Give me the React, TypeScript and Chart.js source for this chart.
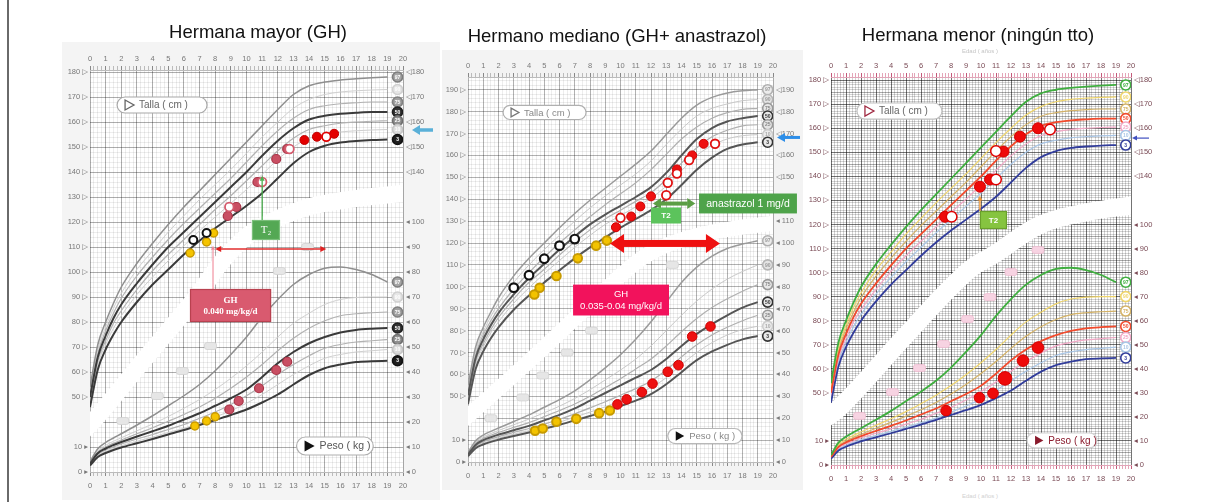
import React, { useEffect, useRef } from 'react';
import { Chart, registerables } from 'chart.js';

Chart.register(...registerables);

const FONT = "'Liberation Sans', 'DejaVu Sans', Arial, sans-serif";
const SERIF = "'Liberation Serif', 'DejaVu Serif', serif";

// Ages (years) at which the reference percentile curves are tabulated
const REF_AGES = [0, 0.5, 1, 1.5, 2, 3, 4, 5, 6, 7, 8, 9, 10, 11, 12, 13, 14, 15, 16, 17, 18, 19];
const PCT_LABELS = ['97', '90', '75', '50', '25', '10', '3'];
const BADGE_AGE = 19.65;

// Girls: height (cm)
const girlsHeightP97 = [54, 71, 80, 87.5, 94, 103.5, 111.5, 119, 126, 132.5, 139, 145.5, 152, 158.5, 165, 171, 174.5, 176, 176.8, 177.3, 177.7, 178];
const girlsHeightP90 = [52.5, 69, 78, 85.5, 91.5, 101, 108.5, 116, 122.5, 129, 135, 141, 147.5, 154, 160, 165.5, 169, 171, 172, 172.5, 172.8, 173];
const girlsHeightP75 = [51.5, 67.5, 76.5, 83.5, 89.5, 98.5, 106, 113, 119.5, 125.5, 131.5, 137.5, 144, 150.5, 156.5, 161.5, 165, 166.5, 167.3, 167.7, 168, 168];
const girlsHeightP50 = [50, 66, 74.5, 81.5, 87, 95.5, 103, 110, 116, 122, 128, 134, 140, 146.5, 152.5, 157.5, 161, 162.5, 163.3, 163.7, 164, 164];
const girlsHeightP25 = [48.5, 64.5, 72.5, 79.5, 84.5, 93, 100.5, 107, 113, 119, 125, 130.5, 136.5, 142.5, 148.5, 153.5, 157, 158.5, 159.5, 160, 160.3, 160.5];
const girlsHeightP10 = [47.5, 63, 71, 77.5, 82.5, 91, 98, 104.5, 110.5, 116.5, 122, 127.5, 133, 139, 145, 150, 153.5, 155, 156, 156.5, 156.8, 157];
const girlsHeightP3 = [46, 61, 69, 75, 80, 88, 95, 101, 107, 112.5, 117.5, 122, 126.5, 131.5, 137.5, 143.5, 148, 150.5, 151.8, 152.4, 152.8, 153];

// Girls: weight (kg)
const girlsWeightP97 = [4.1, 9.3, 11.8, 13.6, 15.3, 18.8, 22.5, 26.5, 30.5, 35, 40.5, 47, 54, 62, 69, 75, 79, 81.5, 82, 81, 79, 76];
const girlsWeightP90 = [3.8, 8.5, 10.7, 12.3, 13.7, 16.5, 19.2, 22.2, 25.5, 29, 33, 37.5, 42.5, 48, 54, 59.5, 63.5, 67, 69, 69.8, 70, 70];
const girlsWeightP75 = [3.6, 8, 10, 11.5, 12.8, 15.3, 17.7, 20.3, 23, 26, 29.5, 33.5, 38, 43, 48.5, 53.5, 57.5, 60.5, 62.5, 63.3, 63.7, 64];
const girlsWeightP50 = [3.3, 7.5, 9.4, 10.8, 12, 14.2, 16.3, 18.5, 21, 23.5, 26.5, 29.5, 33, 38, 43.5, 48, 51.5, 54, 55.8, 56.8, 57.3, 57.6];
const girlsWeightP25 = [3.1, 7, 8.8, 10, 11.2, 13.2, 15, 17, 19, 21.5, 24, 27, 30.5, 34.5, 39, 43, 46.5, 49.5, 51, 52, 52.5, 53];
const girlsWeightP10 = [2.9, 6.5, 8.2, 9.4, 10.5, 12.3, 14, 15.8, 17.5, 19.5, 22, 24.5, 27.5, 31, 35, 39, 42.5, 45.5, 47, 48, 48.5, 49];
const girlsWeightP3 = [2.6, 6, 7.6, 8.8, 9.8, 11.5, 13.2, 15, 16.8, 18.8, 20.8, 22.8, 25, 27.8, 31, 35, 38.8, 41.5, 43, 44, 44.3, 44.5];

// Boys: height (cm)
const boysHeightP97 = [55, 72.5, 81.5, 88.5, 95, 105, 113, 120, 127, 133.5, 139.5, 145, 150.5, 156, 162, 169.5, 177, 183, 186.5, 188.5, 189.5, 190];
const boysHeightP90 = [53.5, 70.5, 79.5, 86.5, 92.5, 102, 110, 117, 123.5, 130, 136, 141.5, 146.5, 151.5, 157.5, 165, 172, 178, 181.5, 183.5, 185, 185.5];
const boysHeightP75 = [52, 69, 78, 84.5, 90, 99, 106.5, 113.5, 120, 126, 132, 137.5, 142.5, 147.5, 153.5, 160.5, 167.5, 173, 177, 179.5, 181, 181.5];
const boysHeightP50 = [50.5, 67.5, 76, 82.5, 88, 96.5, 104, 110.5, 117, 123, 128.5, 133, 137, 141, 145.5, 152, 160, 167.5, 172.5, 175.5, 177, 178];
const boysHeightP25 = [49, 66, 74, 80.5, 86, 94.5, 102, 108, 114.5, 120.5, 126, 131, 135, 139, 143, 149, 156.5, 163.5, 168.5, 171.5, 173.5, 174];
const boysHeightP10 = [48, 64.5, 72.5, 79, 84, 92.5, 99.5, 106, 112, 118, 123.5, 128.5, 132.5, 136.5, 140.5, 146, 153, 160, 164.5, 167.5, 169, 169.5];
const boysHeightP3 = [46.5, 62.5, 70.5, 76.5, 81.5, 89.5, 96, 102, 107.5, 113, 118, 122.5, 127, 131, 135, 140, 146.5, 153.5, 159, 163, 165, 166];

// Boys: weight (kg)
const boysWeightP97 = [4.3, 9.7, 12.3, 14, 15.5, 18.5, 21.5, 25, 28.5, 32.5, 37.5, 43, 49, 56, 64, 73, 82, 89, 94, 97.5, 99.5, 101];
const boysWeightP90 = [4, 9.1, 11.5, 13, 14.4, 17, 19.6, 22.5, 25.5, 29, 33, 37.5, 42, 47, 53, 60, 67, 73.5, 79, 83.5, 87, 90];
const boysWeightP75 = [3.7, 8.5, 10.8, 12.2, 13.5, 15.8, 18, 20.7, 23.5, 26.5, 30, 34, 38, 42.5, 47, 53, 59.5, 65.5, 70.5, 74.5, 78, 81];
const boysWeightP50 = [3.4, 7.8, 10, 11.3, 12.5, 14.5, 16.5, 19, 21.5, 24.5, 28, 31.5, 35, 38.5, 42, 47, 53, 58.5, 63, 67, 70.5, 73];
const boysWeightP25 = [3.1, 7.2, 9.2, 10.5, 11.6, 13.5, 15.3, 17.3, 19.5, 22, 24.7, 27.5, 30.5, 33.5, 37, 42, 48, 53.5, 58, 61.5, 64.5, 67];
const boysWeightP10 = [2.9, 6.8, 8.6, 9.8, 10.9, 12.7, 14.3, 16.2, 18.2, 20.5, 22.8, 25.2, 28, 30.8, 34, 38.5, 44.5, 50, 54.5, 58, 60.5, 62];
const boysWeightP3 = [2.6, 6.3, 8, 9.2, 10.2, 11.9, 13.5, 15.2, 17, 19, 21, 23, 25.5, 28, 31, 35.5, 41, 46.5, 50.5, 53.5, 56, 57.5];

const GIRLS_HEIGHT = [girlsHeightP97, girlsHeightP90, girlsHeightP75, girlsHeightP50, girlsHeightP25, girlsHeightP10, girlsHeightP3];
const GIRLS_WEIGHT = [girlsWeightP97, girlsWeightP90, girlsWeightP75, girlsWeightP50, girlsWeightP25, girlsWeightP10, girlsWeightP3];
const BOYS_HEIGHT = [boysHeightP97, boysHeightP90, boysHeightP75, boysHeightP50, boysHeightP25, boysHeightP10, boysHeightP3];
const BOYS_WEIGHT = [boysWeightP97, boysWeightP90, boysWeightP75, boysWeightP50, boysWeightP25, boysWeightP10, boysWeightP3];

// Older sister (GH): [age, cm] and [age, kg]
const olderHeightBefore = [[6.4, 107.6], [7.45, 112], [7.9, 115.6]];
const olderBoneAgeHeight = [[6.6, 112.8], [7.45, 115.6]];
const olderHeightGh = [[8.8, 122.4], [9.35, 126], [10.7, 136], [11.9, 145.2], [12.6, 149.2]];
const olderHeightGhOpen = [[8.9, 126], [11.0, 136], [12.75, 149.2]];
const olderHeightLate = [[13.7, 152.8], [14.5, 154.1], [15.6, 155.3]];
const olderHeightLateOpen = [[15.1, 154.1]];
const olderWeightBefore = [[6.7, 18.4], [7.45, 20.4], [8.0, 22.1]];
const olderWeightGh = [[8.9, 25], [9.5, 28.4], [10.8, 33.5], [11.9, 40.8], [12.6, 44.1]];

// Middle brother (GH + anastrozole)
const middleBoneAgeHeight = [[3.0, 99.6], [4.0, 105.3], [5.0, 112.8], [6.0, 118.8], [7.0, 121.8]];
const middleHeightBefore = [[4.35, 96.5], [4.7, 99.6], [5.8, 104.9], [7.2, 113], [8.4, 118.8], [9.1, 121.1]];
const middleHeightGh = [[9.7, 127.2], [10.7, 132.1], [11.3, 136.7], [12.0, 141.3], [13.7, 153.6], [14.7, 160], [15.45, 165.3]];
const middleHeightGhOpen = [[10.0, 131.5], [13.0, 141.8], [13.1, 147.5], [13.7, 151.7], [14.5, 157.9], [16.2, 165.3]];
const middleWeightBefore = [[4.4, 14.3], [4.9, 15.3], [5.8, 18.4], [7.1, 19.7], [8.6, 22.3], [9.3, 23.5]];
const middleWeightGh = [[9.8, 26.3], [10.4, 28.6], [11.4, 31.9], [12.1, 35.8], [13.1, 41.2], [13.8, 44.2], [14.7, 57.3], [15.9, 61.9]];

// Younger sister (untreated)
const youngerHeight = [[7.6, 123.2], [9.93, 135.7], [10.6, 138.7], [11.5, 150.3], [12.6, 156.5], [13.8, 160]];
const youngerHeightOpen = [[8.04, 123.2], [11.0, 138.7], [11.0, 150.5], [14.6, 159.5]];
const youngerWeight = [[7.67, 22.6], [9.9, 28], [10.8, 29.8], [11.6, 36], [12.8, 43.4], [13.8, 48.8]];

// White separator band between height and weight sections: [age, kg-axis value]
const olderBand = [[-1, 13], [0.3, 21], [3.2, 43], [6.4, 67], [9.6, 92], [12.8, 103.5], [16, 108.5], [20.5, 111.8]];
const middleBand = [[-1, 15], [0, 21], [4, 46], [8, 72], [11, 91], [13, 99], [16, 105], [20.5, 109.5]];
const youngerBand = [[-1, 17], [0.6, 24], [5, 54], [9, 80], [11, 88], [14, 100], [17, 105], [20.5, 108.3]];

// Age tags along the band: [age, kg-axis value]
const olderTags = [[2.1, 20.4], [4.3, 30.4], [5.9, 40.4], [7.7, 50.4], [12.1, 80.4], [13.9, 90]];
const middleTags = [[1.5, 20], [3.6, 29.5], [4.9, 39.5], [6.5, 50], [8.1, 60], [13.4, 90]];
const youngerTags = [[1.9, 20.4], [4.1, 30.3], [5.9, 40.3], [7.5, 50.3], [9.1, 60.7], [10.6, 69.8], [12, 80.2], [13.8, 89.4]];

type Box = { x1: number; y1: number; x2: number; y2: number; fill: string; stroke?: string; lines: string[]; font: string; color: string; gap?: number };
type Arrow = { x1: number; y1: number; x2: number; y2: number; color: string; width: number; head: number; headW: number; both?: boolean };
type Legend = { x1: number; y1: number; x2: number; y2: number; text: string; filled: boolean; iconColor: string; textColor: string; border: string; size: number };
type Side = { y: number; from: number; to: number; color: string; width: number; head: number; headW: number };
type Dot = { data: number[][]; axis: 'yH' | 'yW'; fill: string; stroke: string; radius: number | number[]; border: number };

type PanelSpec = {
  left: number; top: number; width: number; height: number;
  axisL: number; axisR: number; axisT: number; axisB: number;
  wMax: number; xStep: number; yStep: number;
  canvasBg: string; plotBg: string;
  gridMajor: string; gridMid: string; gridMinor: string;
  tickColor: string; rulerColor: string; markColor: string;
  heights: number[][]; weights: number[][];
  curveColors: string[]; curveWidths: number[];
  badgeFill: string[]; badgeBorder: string[]; badgeText: string[];
  band: number[][]; bandWidth: number;
  dots: Dot[];
  maxWeightLabel: number; minHeightLabel: number;
  tags: number[][]; tagFill: string; tagBorder: string;
  legends: Legend[]; boxes: Box[]; arrows: Arrow[]; side: Side;
};

const isWhole = (v: number) => Math.abs(v - Math.round(v)) < 1e-6;

function rrect(ctx: CanvasRenderingContext2D, x: number, y: number, w: number, h: number, r: number) {
  ctx.beginPath();
  ctx.moveTo(x + r, y);
  ctx.arcTo(x + w, y, x + w, y + h, r);
  ctx.arcTo(x + w, y + h, x, y + h, r);
  ctx.arcTo(x, y + h, x, y, r);
  ctx.arcTo(x, y, x + w, y, r);
  ctx.closePath();
}

function drawArrow(ctx: CanvasRenderingContext2D, a: { x1: number; y1: number; x2: number; y2: number; color: string; width: number; head: number; headW: number; both?: boolean }) {
  const ang = Math.atan2(a.y2 - a.y1, a.x2 - a.x1);
  const len = Math.hypot(a.x2 - a.x1, a.y2 - a.y1);
  ctx.save();
  ctx.translate(a.x1, a.y1);
  ctx.rotate(ang);
  ctx.fillStyle = a.color;
  const s0 = a.both ? a.head - 0.5 : 0;
  const s1 = len - a.head + 0.5;
  ctx.fillRect(s0, -a.width / 2, s1 - s0, a.width);
  ctx.beginPath();
  ctx.moveTo(len, 0);
  ctx.lineTo(len - a.head, -a.headW / 2);
  ctx.lineTo(len - a.head, a.headW / 2);
  ctx.closePath();
  ctx.fill();
  if (a.both) {
    ctx.beginPath();
    ctx.moveTo(0, 0);
    ctx.lineTo(a.head, -a.headW / 2);
    ctx.lineTo(a.head, a.headW / 2);
    ctx.closePath();
    ctx.fill();
  }
  ctx.restore();
}

function decorPlugin(spec: PanelSpec) {
  return {
    id: 'decor',
    beforeDraw(chart: any) {
      const { ctx, chartArea: a } = chart;
      ctx.save();
      ctx.fillStyle = spec.canvasBg;
      ctx.fillRect(0, 0, chart.width, chart.height);
      ctx.fillStyle = spec.plotBg;
      ctx.fillRect(a.left, a.top, a.right - a.left, a.bottom - a.top);
      ctx.restore();
    },
    beforeDatasetsDraw(chart: any) {
      const ctx: CanvasRenderingContext2D = chart.ctx;
      const px = (v: number) => chart.scales.x.getPixelForValue(v);
      const py = (v: number) => chart.scales.yW.getPixelForValue(v);
      ctx.save();
      spec.tags.forEach(([ax, ay]) => {
        rrect(ctx, px(ax) - 6, py(ay) - 3.5, 12, 7, 2.5);
        ctx.fillStyle = spec.tagFill;
        ctx.fill();
        ctx.strokeStyle = spec.tagBorder;
        ctx.lineWidth = 0.8;
        ctx.stroke();
      });
      ctx.restore();
    },
    afterDatasetsDraw(chart: any) {
      const ctx: CanvasRenderingContext2D = chart.ctx;
      const area = chart.chartArea;
      const px = (v: number) => chart.scales.x.getPixelForValue(v);
      const py = (v: number) => chart.scales.yW.getPixelForValue(v);
      ctx.save();
      // numbers inside the percentile badges
      chart.data.datasets.forEach((ds: any, i: number) => {
        if (!ds.badgeText) return;
        chart.getDatasetMeta(i).data.forEach((el: any, j: number) => {
          ctx.fillStyle = ds.badgeTextColor[j];
          ctx.font = `bold 5px ${FONT}`;
          ctx.textAlign = 'center';
          ctx.textBaseline = 'middle';
          ctx.fillText(ds.badgeText[j], el.x, el.y + 0.3);
        });
      });
      // "Talla" / "Peso" captions
      spec.legends.forEach((lg) => {
        const x = px(lg.x1), y = py(lg.y1), w = px(lg.x2) - x, h = py(lg.y2) - y;
        rrect(ctx, x, y, w, h, h / 2);
        ctx.fillStyle = '#ffffff';
        ctx.fill();
        ctx.strokeStyle = lg.border;
        ctx.lineWidth = 1.2;
        ctx.stroke();
        const cy = y + h / 2, tx = x + 8, th = h * 0.62;
        ctx.beginPath();
        ctx.moveTo(tx, cy - th / 2);
        ctx.lineTo(tx + th * 0.9, cy);
        ctx.lineTo(tx, cy + th / 2);
        ctx.closePath();
        if (lg.filled) {
          ctx.fillStyle = lg.iconColor;
          ctx.fill();
        } else {
          ctx.strokeStyle = lg.iconColor;
          ctx.lineWidth = 1.3;
          ctx.stroke();
        }
        ctx.fillStyle = lg.textColor;
        ctx.font = `${lg.size}px ${FONT}`;
        ctx.textAlign = 'left';
        ctx.textBaseline = 'middle';
        ctx.fillText(lg.text, tx + th * 0.9 + 5, cy + 0.5);
      });
      // arrows, then labelled boxes on top
      spec.arrows.forEach((a) => {
        drawArrow(ctx, { ...a, x1: px(a.x1), y1: py(a.y1), x2: px(a.x2), y2: py(a.y2) });
      });
      spec.boxes.forEach((b) => {
        const x = px(b.x1), y = py(b.y1), w = px(b.x2) - x, h = py(b.y2) - y;
        ctx.fillStyle = b.fill;
        ctx.fillRect(x, y, w, h);
        if (b.stroke) {
          ctx.strokeStyle = b.stroke;
          ctx.lineWidth = 1.2;
          ctx.strokeRect(x + 0.5, y + 0.5, w - 1, h - 1);
        }
        ctx.fillStyle = b.color;
        ctx.font = b.font;
        ctx.textAlign = 'center';
        ctx.textBaseline = 'middle';
        const gap = b.gap ?? 11;
        const n = b.lines.length;
        b.lines.forEach((t, k) => {
          ctx.fillText(t, x + w / 2, y + h / 2 + (k - (n - 1) / 2) * gap + 0.5);
        });
      });
      // pointer at the target percentile, right of the chart
      const s = spec.side;
      drawArrow(ctx, { x1: area.right + s.from, y1: py(s.y), x2: area.right + s.to, y2: py(s.y), color: s.color, width: s.width, head: s.head, headW: s.headW });
      ctx.restore();
    },
  };
}

function buildConfig(spec: PanelSpec): any {
  const xy = (vals: number[]) => REF_AGES.map((a, i) => ({ x: a, y: vals[i] }));
  const pairs = (d: number[][]) => d.map(([x, y]) => ({ x, y }));
  const datasets: any[] = [];

  datasets.push({
    data: pairs(spec.band), yAxisID: 'yW', borderColor: '#ffffff', borderWidth: spec.bandWidth,
    pointRadius: 0, tension: 0.4, order: 100, borderCapStyle: 'butt',
  });

  const addCurves = (curves: number[][], axis: string) => {
    curves.forEach((c, i) => {
      const dark = spec.curveWidths[i] >= 1.8;
      datasets.push({
        data: xy(c), yAxisID: axis, borderColor: spec.curveColors[i], borderWidth: spec.curveWidths[i],
        pointRadius: 0, cubicInterpolationMode: 'monotone', order: dark ? 50 : 60,
      });
    });
  };
  addCurves(spec.heights, 'yH');
  addCurves(spec.weights, 'yW');

  const addBadges = (curves: number[][], axis: string) => {
    datasets.push({
      data: curves.map((c) => ({ x: BADGE_AGE, y: c[c.length - 1] })), yAxisID: axis, showLine: false,
      pointRadius: 5, pointBorderWidth: 1.6, pointBackgroundColor: spec.badgeFill, pointBorderColor: spec.badgeBorder,
      badgeText: PCT_LABELS, badgeTextColor: spec.badgeText, order: 40,
    });
  };
  addBadges(spec.heights, 'yH');
  addBadges(spec.weights, 'yW');

  spec.dots.forEach((d, i) => {
    datasets.push({
      data: pairs(d.data), yAxisID: d.axis, showLine: false, pointRadius: d.radius, pointBorderWidth: d.border,
      pointBackgroundColor: d.fill, pointBorderColor: d.stroke, order: 30 - i,
    });
  });

  const gridColor = (c: any, isX: boolean) => {
    const v = c.tick ? c.tick.value : 0;
    if (isX) return isWhole(v) ? spec.gridMajor : spec.gridMinor;
    if (isWhole(v / 10)) return spec.gridMajor;
    if (isWhole(v / 5)) return spec.gridMid;
    return spec.gridMinor;
  };
  const tickFont = { family: FONT, size: 7.5 };
  const xTicks = (pad: number) => ({
    stepSize: spec.xStep, autoSkip: false, includeBounds: false, maxRotation: 0, minRotation: 0, padding: pad,
    color: spec.tickColor, font: tickFont,
    callback: (v: number) => (isWhole(v) ? String(Math.round(v)) : ''),
  });

  return {
    type: 'line',
    data: { datasets },
    options: {
      responsive: false,
      animation: false,
      events: [],
      layout: { padding: 0 },
      plugins: { legend: { display: false }, tooltip: { enabled: false }, title: { display: false } },
      scales: {
        x: {
          type: 'linear', position: 'bottom', min: 0, max: 20,
          afterFit: (s: any) => { s.height = spec.axisB; },
          grid: {
            color: (c: any) => gridColor(c, true), drawTicks: true, tickLength: 4,
            tickColor: (c: any) => (c.tick && isWhole(c.tick.value) ? spec.markColor : spec.rulerColor),
          },
          border: { display: true, color: spec.rulerColor },
          ticks: xTicks(5),
        },
        x2: {
          type: 'linear', position: 'top', min: 0, max: 20,
          afterFit: (s: any) => { s.height = spec.axisT; },
          grid: {
            display: true, drawOnChartArea: false, drawTicks: true, tickLength: 4,
            color: (c: any) => (c.tick && isWhole(c.tick.value) ? spec.markColor : spec.rulerColor),
          },
          border: { display: true, color: spec.rulerColor },
          ticks: xTicks(3),
        },
        yH: {
          type: 'linear', position: 'left', min: 20, max: 20 + spec.wMax,
          afterFit: (s: any) => { s.width = spec.axisL; },
          grid: { display: false, drawTicks: false },
          border: { display: false },
          ticks: {
            stepSize: 10, autoSkip: false, includeBounds: false, padding: 2, color: spec.tickColor, font: tickFont,
            callback: (v: number) => {
              if (!isWhole(v / 10)) return '';
              if (v >= 50) return `${v} ▷`;
              if (v === 20) return '0 ▸';
              if (v === 30) return '10 ▸';
              return '';
            },
          },
        },
        yW: {
          type: 'linear', position: 'right', min: 0, max: spec.wMax,
          afterFit: (s: any) => { s.width = spec.axisR; },
          grid: { color: (c: any) => gridColor(c, false), drawTicks: false },
          border: { display: false },
          ticks: {
            stepSize: spec.yStep, autoSkip: false, includeBounds: false, padding: 3, color: spec.tickColor, font: tickFont,
            callback: (v: number) => {
              if (!isWhole(v / 10)) return '';
              const r = Math.round(v);
              if (r <= spec.maxWeightLabel) return `◂ ${r}`;
              if (r + 20 >= spec.minHeightLabel) return `◁${r + 20}`;
              return '';
            },
          },
        },
      },
    },
    plugins: [decorPlugin(spec)],
  };
}

const GREY_CURVES_1 = ['#8f8f8f', '#d0d0d0', '#b2b2b2', '#3a3a3a', '#b2b2b2', '#d0d0d0', '#3a3a3a'];
const GREY_CURVES_2 = ['#9a9a9a', '#c9c9c9', '#b0b0b0', '#555555', '#b0b0b0', '#c9c9c9', '#555555'];
const COLOUR_CURVES = ['#3fae3f', '#efd56a', '#d4b266', '#f24a2c', '#f2a7c6', '#a9c6e6', '#323d9b'];
const CURVE_WIDTHS = [1.5, 1, 1.2, 2, 1.2, 1, 2];

const olderSpec: PanelSpec = {
  left: 62, top: 42, width: 378, height: 458, axisL: 28, axisR: 37, axisT: 28, axisB: 28,
  wMax: 160.8, xStep: 0.25, yStep: 2,
  canvasBg: '#f4f4f4', plotBg: '#ffffff',
  gridMajor: 'rgba(0,0,0,0.32)', gridMid: 'rgba(0,0,0,0.13)', gridMinor: 'rgba(0,0,0,0.07)',
  tickColor: '#777777', rulerColor: '#bbbbbb', markColor: '#888888',
  heights: GIRLS_HEIGHT, weights: GIRLS_WEIGHT, curveColors: GREY_CURVES_1, curveWidths: CURVE_WIDTHS,
  badgeFill: ['#a5a5a5', '#e6e6e6', '#a0a0a0', '#333333', '#8f8f8f', '#dcdcdc', '#1e1e1e'],
  badgeBorder: ['#7d7d7d', '#d0d0d0', '#808080', '#1e1e1e', '#6f6f6f', '#c5c5c5', '#111111'],
  badgeText: ['#ffffff', '#ffffff', '#ffffff', '#ffffff', '#ffffff', '#ffffff', '#ffffff'],
  band: olderBand, bandWidth: 17,
  dots: [
    { data: olderHeightBefore, axis: 'yH', fill: '#f5c400', stroke: '#c99a00', radius: 4, border: 1.5 },
    { data: olderBoneAgeHeight, axis: 'yH', fill: '#ffffff', stroke: '#111111', radius: 4, border: 2 },
    { data: olderHeightGh, axis: 'yH', fill: '#c94f63', stroke: '#a83346', radius: 4.5, border: 1.2 },
    { data: olderHeightGhOpen, axis: 'yH', fill: '#ffffff', stroke: '#d45a6c', radius: 4.3, border: 1.8 },
    { data: olderHeightLate, axis: 'yH', fill: '#e40000', stroke: '#c00000', radius: 4.5, border: 1 },
    { data: olderHeightLateOpen, axis: 'yH', fill: '#ffffff', stroke: '#e00000', radius: 4.3, border: 1.8 },
    { data: olderWeightBefore, axis: 'yW', fill: '#f5c400', stroke: '#c99a00', radius: 4, border: 1.5 },
    { data: olderWeightGh, axis: 'yW', fill: '#c94f63', stroke: '#a83346', radius: 4.5, border: 1.2 },
  ],
  maxWeightLabel: 100, minHeightLabel: 140,
  tags: olderTags, tagFill: '#e6e6e6', tagBorder: '#d0d0d0',
  legends: [
    { x1: 1.73, y1: 150, x2: 7.48, y2: 143.6, text: 'Talla ( cm )', filled: false, iconColor: '#666666', textColor: '#666666', border: '#a8a8a8', size: 10 },
    { x1: 13.2, y1: 14, x2: 18.1, y2: 6.8, text: 'Peso ( kg )', filled: true, iconColor: '#111111', textColor: '#555555', border: '#b0b0b0', size: 10.5 },
  ],
  arrows: [
    { x1: 11.0, y1: 100.8, x2: 11.0, y2: 118.5, color: '#4caf50', width: 1.3, head: 5, headW: 5 },
    { x1: 8.0, y1: 89.2, x2: 15.1, y2: 89.2, color: '#e02020', width: 1.4, head: 6, headW: 6, both: true },
    { x1: 7.86, y1: 73.2, x2: 7.86, y2: 90.5, color: '#f08a9a', width: 1.1, head: 4, headW: 4 },
  ],
  boxes: [
    { x1: 10.35, y1: 100.8, x2: 12.14, y2: 92.8, fill: '#54a854', stroke: '#7cc07c', lines: ['T₂'], font: `11px ${SERIF}`, color: '#ffffff' },
    { x1: 6.39, y1: 73.2, x2: 11.57, y2: 60, fill: '#d95a6f', stroke: '#b8414f', lines: ['GH', '0.040 mg/kg/d'], font: `bold 9px ${SERIF}`, color: '#ffffff', gap: 11 },
  ],
  side: { y: 136.8, from: 30, to: 9, color: '#5ab0d8', width: 3.5, head: 8, headW: 10 },
};

const middleSpec: PanelSpec = {
  left: 442, top: 50, width: 361, height: 440, axisL: 26, axisR: 30, axisT: 27, axisB: 28,
  wMax: 175.8, xStep: 0.25, yStep: 2,
  canvasBg: '#f3f3f3', plotBg: '#ffffff',
  gridMajor: 'rgba(0,0,0,0.30)', gridMid: 'rgba(0,0,0,0.12)', gridMinor: 'rgba(0,0,0,0.07)',
  tickColor: '#7a7a7a', rulerColor: '#bbbbbb', markColor: '#888888',
  heights: BOYS_HEIGHT, weights: BOYS_WEIGHT, curveColors: GREY_CURVES_2, curveWidths: CURVE_WIDTHS,
  badgeFill: ['#ececec', '#e4e4e4', '#e8e8e8', '#e8e8e8', '#e4e4e4', '#ececec', '#e8e8e8'],
  badgeBorder: ['#b0b0b0', '#b5b5b5', '#9a9a9a', '#333333', '#9a9a9a', '#cccccc', '#333333'],
  badgeText: ['#999999', '#999999', '#888888', '#333333', '#888888', '#aaaaaa', '#333333'],
  band: middleBand, bandWidth: 15,
  dots: [
    { data: middleBoneAgeHeight, axis: 'yH', fill: '#ffffff', stroke: '#111111', radius: 4.3, border: 2.2 },
    { data: middleHeightBefore, axis: 'yH', fill: '#f3c300', stroke: '#c79a00', radius: 4.3, border: 2 },
    { data: middleHeightGh, axis: 'yH', fill: '#ee1111', stroke: '#d00000', radius: 4.5, border: 1 },
    { data: middleHeightGhOpen, axis: 'yH', fill: '#ffffff', stroke: '#e01010', radius: 4.3, border: 1.8 },
    { data: middleWeightBefore, axis: 'yW', fill: '#f3c300', stroke: '#c79a00', radius: 4.3, border: 2 },
    { data: middleWeightGh, axis: 'yW', fill: '#ee1111', stroke: '#d00000', radius: 4.8, border: 1 },
  ],
  maxWeightLabel: 110, minHeightLabel: 150,
  tags: middleTags, tagFill: '#e6e6e6', tagBorder: '#d2d2d2',
  legends: [
    { x1: 2.3, y1: 162.8, x2: 7.74, y2: 156.4, text: 'Talla ( cm )', filled: false, iconColor: '#777777', textColor: '#888888', border: '#b0b0b0', size: 9.5 },
    { x1: 13.1, y1: 15.3, x2: 17.97, y2: 8.4, text: 'Peso ( kg )', filled: true, iconColor: '#111111', textColor: '#888888', border: '#b8b8b8', size: 9.5 },
  ],
  arrows: [
    { x1: 12.13, y1: 118, x2: 14.9, y2: 118, color: '#5b9e45', width: 4, head: 8, headW: 11, both: true },
    { x1: 9.31, y1: 99.8, x2: 16.52, y2: 99.8, color: '#ee1111', width: 7, head: 14, headW: 19, both: true },
  ],
  boxes: [
    { x1: 12.0, y1: 116.2, x2: 13.97, y2: 108.9, fill: '#5cc35c', lines: ['T2'], font: `bold 8px ${FONT}`, color: '#ffffff' },
    { x1: 15.15, y1: 122.6, x2: 21.57, y2: 113.5, fill: '#4ea34a', lines: ['anastrazol 1 mg/d'], font: `10.5px ${FONT}`, color: '#ffffff' },
    { x1: 6.89, y1: 81, x2: 13.18, y2: 66.9, fill: '#f2125c', lines: ['GH', '0.035-0.04 mg/kg/d'], font: `9.5px ${FONT}`, color: '#ffffff', gap: 12 },
  ],
  side: { y: 148.2, from: 27, to: 4, color: '#2d8ee8', width: 3, head: 8, headW: 9 },
};

const youngerSpec: PanelSpec = {
  left: 805, top: 52, width: 355, height: 440, axisL: 26, axisR: 29, axisT: 25, axisB: 27,
  wMax: 161.3, xStep: 0.2, yStep: 1,
  canvasBg: '#ffffff', plotBg: '#ffffff',
  gridMajor: 'rgba(0,0,0,0.55)', gridMid: 'rgba(0,0,0,0.33)', gridMinor: 'rgba(0,0,0,0.17)',
  tickColor: '#7a4a55', rulerColor: '#e3a5b8', markColor: '#c45a7a',
  heights: GIRLS_HEIGHT, weights: GIRLS_WEIGHT, curveColors: COLOUR_CURVES, curveWidths: [1.8, 1.2, 1.2, 1.8, 1.2, 1.2, 1.8],
  badgeFill: ['#ffffff', '#ffffff', '#ffffff', '#ffffff', '#ffffff', '#ffffff', '#ffffff'],
  badgeBorder: COLOUR_CURVES,
  badgeText: COLOUR_CURVES,
  band: youngerBand, bandWidth: 18,
  dots: [
    { data: youngerHeight, axis: 'yH', fill: '#ee0a0a', stroke: '#d40000', radius: 5.5, border: 1 },
    { data: youngerHeightOpen, axis: 'yH', fill: '#ffffff', stroke: '#e00000', radius: 5.3, border: 1.5 },
    { data: youngerWeight, axis: 'yW', fill: '#ee0a0a', stroke: '#d40000', radius: [5.3, 5.3, 5.3, 6.8, 5.8, 5.8], border: 1 },
  ],
  maxWeightLabel: 100, minHeightLabel: 140,
  tags: youngerTags, tagFill: '#f7d3e2', tagBorder: '#efbcd0',
  legends: [
    { x1: 1.73, y1: 150.5, x2: 7.4, y2: 143.8, text: 'Talla ( cm )', filled: false, iconColor: '#a02a42', textColor: '#666666', border: '#c0c0c0', size: 10 },
    { x1: 13.07, y1: 13.3, x2: 17.73, y2: 7.1, text: 'Peso ( kg )', filled: true, iconColor: '#8a1a2c', textColor: '#8a1a2c', border: '#d0d0d0', size: 10 },
  ],
  arrows: [
    { x1: 9.93, y1: 105.6, x2: 9.93, y2: 112, color: '#f39c3c', width: 1.5, head: 5, headW: 5 },
  ],
  boxes: [
    { x1: 9.93, y1: 105.6, x2: 11.73, y2: 98.1, fill: '#86c440', stroke: '#6aa02c', lines: ['T2'], font: `bold 8px ${FONT}`, color: '#ffffff' },
  ],
  side: { y: 135.9, from: 18, to: 1, color: '#4050c0', width: 1.2, head: 5, headW: 5 },
};

function GrowthPanel({ spec }: { spec: PanelSpec }) {
  const ref = useRef<HTMLCanvasElement | null>(null);
  useEffect(() => {
    if (!ref.current) return;
    const chart = new Chart(ref.current, buildConfig(spec));
    return () => chart.destroy();
  }, [spec]);
  return (
    <canvas
      ref={ref}
      width={spec.width}
      height={spec.height}
      style={{ position: 'absolute', left: spec.left, top: spec.top, width: spec.width, height: spec.height }}
    />
  );
}

function Title({ text, cx, cy }: { text: string; cx: number; cy: number }) {
  return (
    <div
      style={{
        position: 'absolute', left: cx, top: cy, transform: 'translate(-50%, -50%)',
        whiteSpace: 'nowrap', fontSize: 18.5, color: '#111', fontFamily: FONT,
      }}
    >
      {text}
    </div>
  );
}

export default function App() {
  return (
    <div style={{ position: 'absolute', left: 0, top: 0, width: 1215, height: 502, background: '#ffffff', overflow: 'hidden' }}>
      <div style={{ position: 'absolute', left: 7, top: 0, width: 2, height: 502, background: '#6a6a6a' }} />
      <GrowthPanel spec={olderSpec} />
      <GrowthPanel spec={middleSpec} />
      <GrowthPanel spec={youngerSpec} />
      <Title text="Hermana mayor (GH)" cx={258} cy={32} />
      <Title text="Hermano mediano (GH+ anastrazol)" cx={617} cy={36} />
      <Title text="Hermana menor (ningún tto)" cx={978} cy={35} />
      <div style={{ position: 'absolute', left: 980, top: 51, transform: 'translate(-50%, -50%)', fontSize: 6, color: '#c4c4c4', fontFamily: FONT, whiteSpace: 'nowrap' }}>
        Edad ( años )
      </div>
      <div style={{ position: 'absolute', left: 980, top: 496, transform: 'translate(-50%, -50%)', fontSize: 6, color: '#d0d0d0', fontFamily: FONT, whiteSpace: 'nowrap' }}>
        Edad ( años )
      </div>
    </div>
  );
}
